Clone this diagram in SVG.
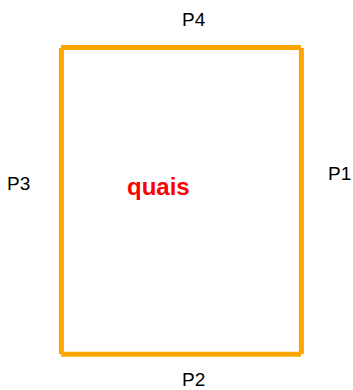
<svg xmlns="http://www.w3.org/2000/svg" width="353" height="390" viewBox="0 0 353 390">
<style>
.edge{stroke:#FFA500;stroke-width:5;fill:none;stroke-linecap:butt}
.lbl{font-family:"Liberation Sans",Arial,sans-serif;font-size:19px;fill:#000}
.title{font-family:"Liberation Sans",Arial,sans-serif;font-size:24px;font-weight:bold;fill:#FF0000}
</style>
<rect width="353" height="390" fill="#fff"/>
<g id="connectors">
<line class="edge" x1="61" y1="47.5" x2="114" y2="47.5"/>
<line class="edge" x1="114" y1="47.5" x2="248" y2="47.5"/>
<line class="edge" x1="248" y1="47.5" x2="301" y2="47.5"/>
<line class="edge" x1="61" y1="354.3" x2="114" y2="354.3"/>
<line class="edge" x1="114" y1="354.3" x2="248" y2="354.3"/>
<line class="edge" x1="248" y1="354.3" x2="301" y2="354.3"/>
<line class="edge" x1="61.4" y1="48" x2="61.4" y2="101"/>
<line class="edge" x1="61.4" y1="101" x2="61.4" y2="301"/>
<line class="edge" x1="61.4" y1="301" x2="61.4" y2="354"/>
<line class="edge" x1="301.4" y1="48" x2="301.4" y2="101"/>
<line class="edge" x1="301.4" y1="101" x2="301.4" y2="301"/>
<line class="edge" x1="301.4" y1="301" x2="301.4" y2="354"/>
</g>
<g id="quais"><text class="title" x="127" y="195">quais</text></g>
<g id="P4"><text class="lbl" x="182" y="26">P4</text></g>
<g id="P3"><text class="lbl" x="7" y="190">P3</text></g>
<g id="P1"><text class="lbl" x="328" y="180">P1</text></g>
<g id="P2"><text class="lbl" x="182" y="386">P2</text></g>
</svg>
